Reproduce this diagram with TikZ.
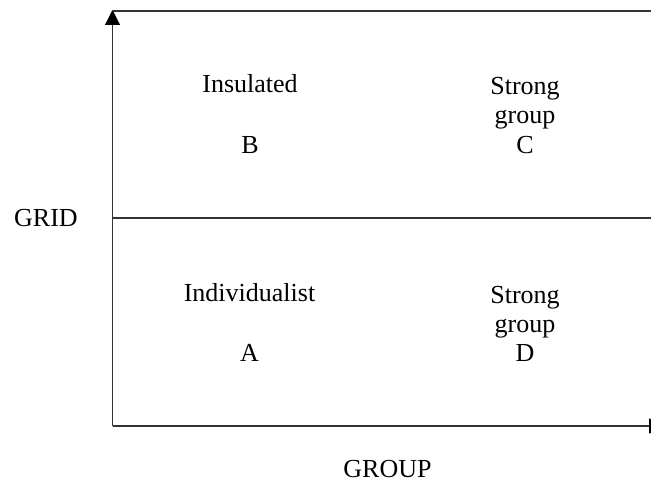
\documentclass[tikz,border=0pt]{standalone}
\usepackage{fontspec}
\setmainfont{Liberation Serif}
\usetikzlibrary{arrows.meta}
\begin{document}
\begin{tikzpicture}[x=1pt,y=1pt,
  axis/.style={line width=1.1pt, draw=black!80},
  tip/.style={-{Triangle[width=15pt,length=15pt,color=black]}},
  lbl/.style={anchor=base, inner sep=0pt, font=\fontsize{26}{30}\selectfont}]
\useasboundingbox (0,0) rectangle (651,483);
\coordinate (O) at (112.5,57);
\coordinate (Ytop) at (112.5,473);
\coordinate (TL) at (112.5,472);
\coordinate (TR) at (660,472);
\coordinate (ML) at (112.5,265);
\coordinate (MR) at (660,265);
\coordinate (Xend) at (664,57);
\draw[axis,tip] (O) -- (Ytop);
\draw[axis] (TL) -- (TR);
\draw[axis] (ML) -- (MR);
\draw[axis,tip] (O) -- (Xend);
\node[lbl] (ins) at (250,390) {Insulated};
\node[lbl] (b) at (250,330) {B};
\node[lbl] (s1) at (525,388) {Strong};
\node[lbl] (g1) at (525,359) {group};
\node[lbl] (c) at (525,330) {C};
\node[lbl] (ind) at (249.5,182) {Individualist};
\node[lbl] (a) at (249.5,122) {A};
\node[lbl] (s2) at (525,180) {Strong};
\node[lbl] (g2) at (525,151) {group};
\node[lbl] (d) at (525,122) {D};
\node[lbl] (grid) at (46,257) {GRID};
\node[lbl] (group) at (387.5,6) {GROUP};
\end{tikzpicture}
\end{document}
